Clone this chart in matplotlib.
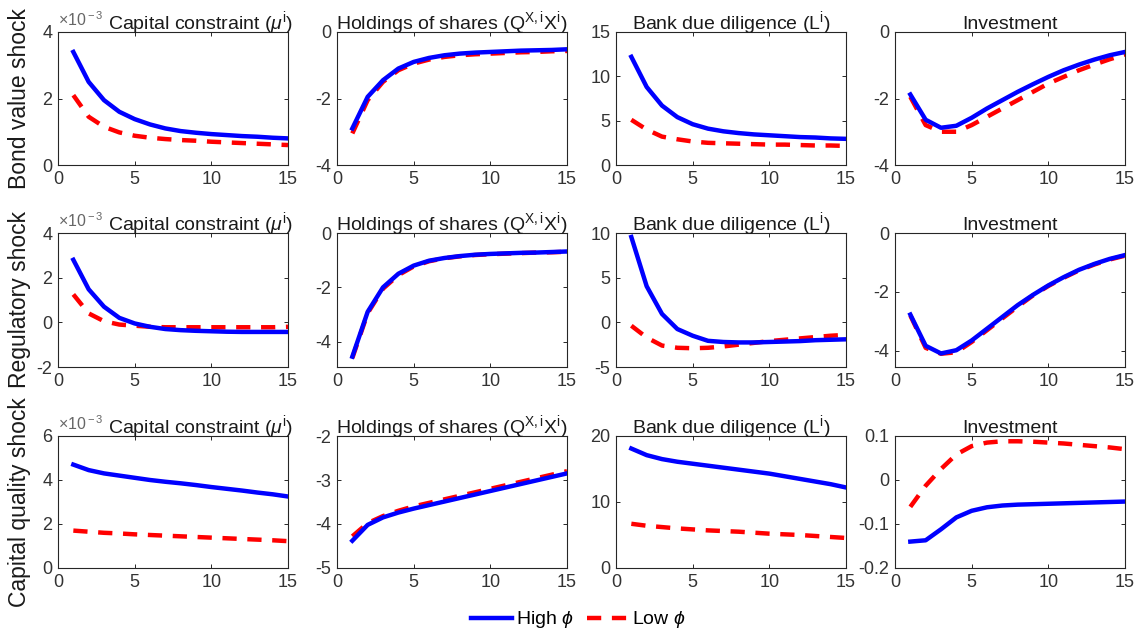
import numpy as np
import matplotlib
matplotlib.use("Agg")
import matplotlib.pyplot as plt

plt.rcParams['font.family'] = ['Liberation Sans', 'DejaVu Sans']
plt.rcParams['mathtext.fontset'] = 'custom'
plt.rcParams['mathtext.rm'] = 'Liberation Sans'
plt.rcParams['mathtext.it'] = 'Liberation Sans:italic'

# horizon
periods = np.arange(1, 16)

# row labels and panel titles
shocks = ['Bond value shock', 'Regulatory shock', 'Capital quality shock']
titles = [r'Capital constraint ($\mu^{\rm i}$)',
          r'Holdings of shares (Q$^{\rm X,i}$X$^{\rm i}$)',
          r'Bank due diligence (L$^{\rm i}$)',
          'Investment']

# --- bond value shock ---
bv_mu_high = [3.4, 2.5, 1.95, 1.6, 1.38, 1.22, 1.1, 1.02, 0.97, 0.93, 0.9, 0.87, 0.85, 0.82, 0.8]
bv_mu_low = [2.1, 1.45, 1.15, 0.98, 0.88, 0.82, 0.78, 0.75, 0.73, 0.7, 0.68, 0.66, 0.64, 0.62, 0.6]
bv_q_high = [-2.9, -1.95, -1.45, -1.1, -0.9, -0.78, -0.7, -0.65, -0.62, -0.6, -0.58, -0.56, -0.55, -0.54, -0.52]
bv_q_low = [-3.05, -2.05, -1.5, -1.15, -0.95, -0.83, -0.75, -0.7, -0.67, -0.65, -0.63, -0.61, -0.6, -0.58, -0.57]
bv_l_high = [12.2, 8.8, 6.7, 5.4, 4.6, 4.1, 3.8, 3.6, 3.45, 3.35, 3.25, 3.15, 3.1, 3.0, 2.95]
bv_l_low = [5.1, 4.0, 3.2, 2.9, 2.65, 2.5, 2.45, 2.4, 2.35, 2.3, 2.3, 2.25, 2.2, 2.2, 2.15]
bv_i_high = [-1.88, -2.64, -2.88, -2.82, -2.58, -2.3, -2.05, -1.8, -1.57, -1.35, -1.15, -0.98, -0.83, -0.7, -0.6]
bv_i_low = [-1.95, -2.8, -3.0, -3.0, -2.8, -2.55, -2.3, -2.05, -1.8, -1.55, -1.35, -1.15, -0.98, -0.82, -0.68]

# --- regulatory shock ---
rg_mu_high = [2.8, 1.48, 0.7, 0.2, -0.05, -0.2, -0.3, -0.35, -0.38, -0.4, -0.42, -0.43, -0.43, -0.43, -0.43]
rg_mu_low = [1.25, 0.4, 0.05, -0.1, -0.15, -0.2, -0.22, -0.22, -0.22, -0.22, -0.22, -0.22, -0.22, -0.22, -0.2]
rg_q_high = [-4.55, -2.9, -2.0, -1.5, -1.2, -1.02, -0.92, -0.85, -0.8, -0.77, -0.75, -0.73, -0.72, -0.7, -0.68]
rg_q_low = [-4.6, -2.95, -2.05, -1.55, -1.23, -1.04, -0.93, -0.86, -0.81, -0.78, -0.76, -0.74, -0.72, -0.71, -0.69]
rg_l_high = [9.55, 4.04, 0.94, -0.75, -1.5, -2.07, -2.2, -2.25, -2.25, -2.2, -2.15, -2.1, -2.0, -1.95, -1.9]
rg_l_low = [-0.38, -1.7, -2.6, -2.85, -2.9, -2.85, -2.7, -2.5, -2.3, -2.1, -1.95, -1.8, -1.65, -1.5, -1.4]
rg_i_high = [-2.77, -3.83, -4.09, -3.98, -3.65, -3.25, -2.85, -2.45, -2.1, -1.78, -1.5, -1.25, -1.05, -0.88, -0.75]
rg_i_low = [-2.8, -3.9, -4.1, -4.05, -3.7, -3.3, -2.9, -2.5, -2.12, -1.8, -1.52, -1.27, -1.07, -0.9, -0.77]

# --- capital quality shock ---
cq_mu_high = [4.7, 4.45, 4.3, 4.2, 4.1, 4.0, 3.92, 3.85, 3.77, 3.68, 3.6, 3.52, 3.43, 3.35, 3.25]
cq_mu_low = [1.7, 1.65, 1.6, 1.57, 1.53, 1.5, 1.47, 1.44, 1.41, 1.38, 1.35, 1.32, 1.29, 1.26, 1.22]
cq_q_high = [-4.38, -4.02, -3.85, -3.74, -3.65, -3.57, -3.49, -3.41, -3.33, -3.25, -3.17, -3.09, -3.01, -2.93, -2.85]
cq_q_low = [-4.28, -3.98, -3.82, -3.7, -3.6, -3.52, -3.44, -3.36, -3.28, -3.2, -3.12, -3.04, -2.96, -2.88, -2.8]
cq_l_high = [18.1, 17.1, 16.5, 16.1, 15.8, 15.5, 15.2, 14.9, 14.6, 14.3, 13.9, 13.5, 13.1, 12.7, 12.2]
cq_l_low = [6.7, 6.4, 6.2, 6.0, 5.85, 5.7, 5.6, 5.5, 5.35, 5.2, 5.1, 5.0, 4.85, 4.7, 4.55]
cq_i_high = [-0.14, -0.137, -0.112, -0.085, -0.07, -0.062, -0.058, -0.056, -0.055, -0.054, -0.053, -0.052, -0.051, -0.05, -0.049]
cq_i_low = [-0.061, -0.013, 0.025, 0.058, 0.077, 0.085, 0.088, 0.088, 0.087, 0.085, 0.083, 0.08, 0.077, 0.074, 0.07]

high = [[bv_mu_high, bv_q_high, bv_l_high, bv_i_high],
        [rg_mu_high, rg_q_high, rg_l_high, rg_i_high],
        [cq_mu_high, cq_q_high, cq_l_high, cq_i_high]]
low = [[bv_mu_low, bv_q_low, bv_l_low, bv_i_low],
       [rg_mu_low, rg_q_low, rg_l_low, rg_i_low],
       [cq_mu_low, cq_q_low, cq_l_low, cq_i_low]]

ylims = [[(0, 4), (-4, 0), (0, 15), (-4, 0)],
         [(-2, 4), (-4.93, 0), (-5, 10), (-4.55, 0)],
         [(0, 6), (-5, -2), (0, 20), (-0.2, 0.1)]]
yticks = [[[0, 2, 4], [-4, -2, 0], [0, 5, 10, 15], [-4, -2, 0]],
          [[-2, 0, 2, 4], [-4, -2, 0], [-5, 0, 5, 10], [-4, -2, 0]],
          [[0, 2, 4, 6], [-5, -4, -3, -2], [0, 10, 20], [-0.2, -0.1, 0, 0.1]]]
ytick_labels = [[['0', '2', '4'], ['-4', '-2', '0'], ['0', '5', '10', '15'], ['-4', '-2', '0']],
                [['-2', '0', '2', '4'], ['-4', '-2', '0'], ['-5', '0', '5', '10'], ['-4', '-2', '0']],
                [['0', '2', '4', '6'], ['-5', '-4', '-3', '-2'], ['0', '10', '20'], ['-0.2', '-0.1', '0', '0.1']]]

W, H = 1141, 632
fig = plt.figure(figsize=(W / 100, H / 100), dpi=100)

col_left = [58, 337, 616, 895]
col_w = 230
row_top = [32, 233, 436]
row_h = [133, 134, 132]
axcol = '#262626'

for r in range(3):
    for c in range(4):
        ax = fig.add_axes([col_left[c] / W, 1 - (row_top[r] + row_h[r]) / H,
                           col_w / W, row_h[r] / H])
        lh, = ax.plot(periods, high[r][c], color='blue', lw=3.2, zorder=3)
        ll, = ax.plot(periods, low[r][c], color='red', lw=3.2, ls=(0, (3.2, 2.4)), zorder=2)
        ax.set_xlim(0, 15)
        ax.set_ylim(*ylims[r][c])
        ax.set_xticks([0, 5, 10, 15])
        ax.set_yticks(yticks[r][c])
        ax.set_yticklabels(ytick_labels[r][c])
        ax.tick_params(direction='in', top=True, right=True, length=3,
                       width=0.7, colors=axcol, labelsize=13, pad=4)
        ax.tick_params(labelcolor='#333333')
        for s in ax.spines.values():
            s.set_color(axcol)
            s.set_linewidth(0.8)
        if c == 0:
            ax.set_title(titles[c], fontsize=14, color='#1a1a1a', x=0.62, pad=2)
            ax.text(0, 1.02, r'$\times$10$^{\rm -3}$', transform=ax.transAxes,
                    fontsize=11.5, color='#666666', ha='left', va='bottom')
            fig.text(20 / W, 1 - (row_top[r] + row_h[r] / 2) / H, shocks[r],
                     rotation=90, ha='center', va='center', fontsize=16.5, color='#1a1a1a')
        else:
            ax.set_title(titles[c], fontsize=14, color='#1a1a1a', pad=2)

fig.legend([lh, ll], [r'High $\phi$', r'Low $\phi$'], loc='center',
           bbox_to_anchor=(578 / W, 1 - 620 / H), ncol=2, frameon=False,
           fontsize=14, handlelength=2.1, columnspacing=0.7, handletextpad=0.2)

fig.savefig('out.png', dpi=100, facecolor='white')
